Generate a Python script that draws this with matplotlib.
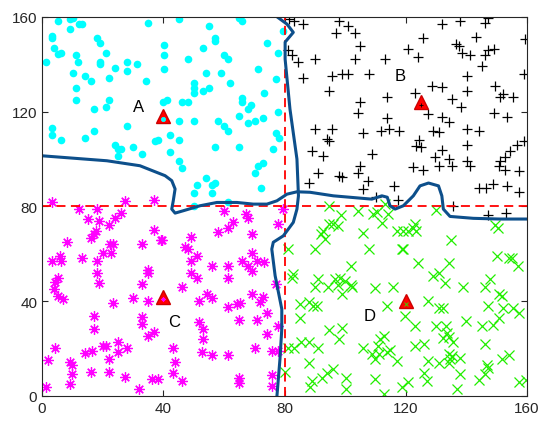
import matplotlib
matplotlib.use('Agg')
import matplotlib.pyplot as plt
import numpy as np

plt.rcParams['font.family'] = ['Liberation Sans', 'DejaVu Sans']

# class A (cyan dots)
a_x = [5.4, 9.2, 10.1, 9.2, 12.3, 13.1, 3.2, 3.2, 4.1, 5.4, 6.2, 11.2, 12.0, 18.0, 19.1, 21.0,
       19.1, 19.1, 24.1, 28.2, 31.2, 28.2, 1.3, 10.1, 14.2, 16.1, 22.1, 11.2, 11.2, 22.1, 21.0,
       17.2, 34.2, 35.1, 3.2, 3.2, 6.2, 14.2, 17.2, 28.2, 24.1, 25.2, 26.1, 25.2, 30.1, 33.1,
       37.3, 38.1,
       45.2, 55.1, 65.1, 66.1, 57.1, 57.1, 53.0, 40.3, 40.3, 40.3, 48.3, 60.1, 61.2, 74.1, 78.0,
       79.6, 71.1, 54.1, 59.1, 77.1, 50.2, 50.2, 50.2, 53.0, 55.2, 62.0, 73.3, 66.1, 66.1, 69.0,
       68.1, 41.1, 40.0, 46.1, 48.3, 78.0, 45.2, 50.2, 58.2, 60.1, 61.2, 65.1, 68.1, 70.1, 73.0,
       42.2, 45.2, 77.1, 78.2, 42.2, 57.1, 65.1, 76.1, 45.2, 46.1, 71.1, 73.0, 70.1, 54.1, 51.0,
       57.1, 56.0, 50.2, 56.0, 72.2, 61.2, 50.2]
a_y = [158.1, 159.1, 159.6, 155.1, 157.0, 157.0, 152.1, 151.1, 147.1, 144.3, 145.0, 144.0, 141.1,
       151.1, 149.0, 145.0, 140.8, 140.1, 138.3, 141.1, 140.1, 137.0, 141.1, 136.2, 135.2, 133.1,
       134.2, 130.2, 125.0, 125.0, 122.1, 121.1, 133.1, 157.3, 113.1, 110.1, 108.0, 108.9, 112.0,
       114.1, 106.0, 104.2, 104.2, 101.1, 104.9, 102.1, 107.7, 108.0,
       159.1, 156.0, 159.6, 158.1, 151.1, 149.9, 147.1, 148.1, 144.0, 138.0, 142.2, 144.0, 142.1,
       149.0, 145.0, 154.2, 138.0, 136.2, 136.2, 134.0, 132.1, 130.0, 128.1, 128.8, 130.0, 132.1,
       128.1, 126.0, 123.9, 122.9, 121.1, 124.9, 123.9, 123.9, 123.9, 120.0, 116.2, 116.2, 116.2,
       114.1, 112.0, 118.0, 115.2, 116.2, 117.2, 110.1, 108.0, 111.0, 109.1, 103.1, 105.2, 105.2,
       104.2, 99.3, 96.2, 97.2, 98.2, 94.1, 92.0, 89.2, 89.9, 89.2, 85.9, 85.9, 88.0, 82.1, 80.0]

# class B (black plus)
b_x = [81.5, 83.0, 86.0, 98.1, 101.1, 97.0, 103.3, 104.9, 81.0, 82.4, 84.3, 90.1, 103.3, 113.0,
       86.0, 95.8, 98.9, 101.1, 108.0, 94.8, 104.9, 104.2, 113.7, 113.7, 90.1, 95.8, 106.0, 111.8,
       114.6, 117.8, 93.9, 94.8, 89.2, 92.6, 109.0, 104.9, 104.2, 91.2, 88.2, 98.1, 98.9, 107.4,
       106.0, 116.2, 110.1, 117.3,
       131.9, 137.9, 146.2, 147.0, 143.2, 125.8, 159.5, 120.9, 124.2, 136.6, 137.7, 138.5, 141.2,
       147.0, 149.0, 146.2, 145.1, 159.1, 140.1, 128.6, 131.9, 140.1, 149.5, 151.1, 152.2, 155.5,
       135.2, 138.3, 127.5, 131.9, 134.4, 149.0, 153.3, 140.1, 144.0, 128.9, 131.1, 124.5, 123.4,
       125.1, 131.9, 140.1, 129.7, 134.4, 140.1, 156.6, 159.1, 154.4, 152.6, 151.1, 141.2, 122.3,
       125.8, 131.1, 135.2, 150.6, 152.8, 157.2, 144.3, 146.5, 148.9, 153.3, 157.5, 122.9,
       135.7, 147.0, 153.1]
b_y = [159.1, 158.1, 157.0, 158.1, 156.0, 153.2, 153.2, 147.8, 146.0, 144.0, 141.1, 142.2, 142.2,
       142.2, 134.2, 135.2, 135.9, 135.9, 135.9, 128.8, 123.9, 119.4, 126.4, 117.3, 112.7, 112.7,
       111.2, 112.0, 112.9, 112.0, 108.4, 107.7, 103.5, 101.1, 102.1, 97.2, 94.1, 94.1, 90.1, 93.0,
       92.3, 90.9, 87.3, 88.7, 84.2, 82.8,
       157.0, 158.1, 157.3, 159.5, 151.6, 151.1, 150.6, 146.4, 142.9, 148.8, 147.8, 145.0, 144.0,
       146.0, 146.4, 144.0, 139.1, 135.9, 135.2, 131.0, 130.5, 128.8, 131.0, 126.4, 127.4, 126.4,
       125.3, 121.8, 119.0, 117.9, 115.8, 119.4, 117.6, 112.9, 112.0, 112.0, 111.5, 108.0, 105.6,
       105.3, 103.8, 106.0, 101.0, 100.0, 99.3, 105.9, 107.7, 103.5, 101.0, 99.3, 96.9, 96.5,
       95.5, 96.9, 96.9, 97.2, 95.3, 95.1, 87.6, 87.6, 89.7, 88.7, 86.3, 128.1,
       80.3, 76.5, 77.2]

# class C (magenta asterisks)
c_x = [3.2, 12.3, 18.0, 27.4, 37.0, 15.3, 18.9, 22.1, 24.1, 26.1, 17.8, 17.0, 16.1, 8.4, 37.1,
       39.2, 22.4, 23.3, 33.1, 20.2, 22.8, 3.2, 6.0, 6.3, 13.1, 18.0, 18.0, 18.9, 35.1, 35.1, 33.1,
       5.4, 4.3, 4.1, 5.4, 7.0, 23.3, 30.1, 35.1, 17.2, 17.2, 33.1, 33.1, 35.1, 37.1, 4.3, 2.1,
       14.2, 16.4, 20.2, 21.0, 25.2, 25.2, 28.2, 22.1, 9.2, 10.0, 10.0, 16.1, 22.1, 27.4, 9.2, 1.3,
       32.0, 36.2, 38.1,
       60.1, 67.3, 68.1, 63.1, 61.5, 58.2, 39.5, 49.1, 47.2, 48.3, 69.2, 78.0, 51.0, 49.1, 56.0,
       61.2, 65.9, 69.2, 67.8, 69.2, 70.8, 73.3, 49.1, 51.0, 61.2, 46.3, 77.1, 54.3, 56.0, 51.9,
       69.2, 73.0, 71.9, 64.2, 65.3, 61.2, 74.1, 65.1, 70.8, 51.9, 53.0, 53.0, 78.0, 74.1, 43.1,
       52.7, 56.0, 61.2, 70.1, 75.8, 78.0, 43.9, 43.1, 46.3, 65.1, 65.1, 75.8, 75.8, 79.6]
c_y = [82.0, 78.9, 78.9, 82.4, 82.8, 74.7, 74.0, 72.3, 75.1, 77.2, 69.7, 68.3, 66.9, 65.2, 70.2,
       65.9, 64.1, 64.1, 64.1, 60.3, 60.3, 57.1, 58.9, 56.8, 58.1, 57.1, 52.1, 47.9, 53.3, 51.9,
       47.2, 50.0, 48.2, 45.1, 42.3, 40.9, 39.1, 41.3, 40.2, 33.9, 28.2, 33.4, 30.3, 25.4, 27.2,
       20.2, 15.1, 18.1, 19.1, 21.2, 21.2, 22.9, 18.4, 20.2, 15.6, 14.2, 13.2, 9.2, 10.2, 10.2,
       8.2, 5.0, 4.0, 2.9, 7.1, 7.1,
       77.9, 76.8, 75.1, 73.3, 71.1, 69.4, 65.9, 67.3, 63.1, 62.0, 68.3, 72.5, 58.9, 57.1, 55.0,
       55.0, 57.1, 60.3, 55.0, 52.9, 57.1, 56.4, 51.9, 49.8, 49.8, 46.1, 47.2, 43.0, 41.2, 40.2,
       43.0, 42.0, 39.8, 38.8, 39.2, 37.4, 35.0, 32.0, 32.0, 31.3, 28.2, 24.0, 29.6, 26.1, 20.1,
       18.4, 17.3, 17.3, 20.2, 19.1, 19.1, 14.2, 9.9, 6.4, 7.5, 5.4, 8.8, 4.3, 78.9]

# class D (green crosses)
d_x = [94.8, 98.7, 104.1, 109.3, 110.4, 113.2, 114.0, 112.1, 94.8, 96.1, 97.5, 92.6, 92.0, 93.4,
       106.0, 117.0, 81.0, 89.9, 108.0, 118.7, 101.9, 82.9, 82.4, 91.0, 89.9, 94.5, 96.7, 98.3,
       97.5, 100.0, 101.9, 102.2, 98.9, 109.9, 115.9, 85.1, 88.2, 89.5, 90.6, 85.1, 113.7, 94.8,
       98.9, 98.1, 81.0, 83.2, 85.4, 88.2, 90.9, 106.0, 111.5, 112.9, 111.0, 108.8, 111.3, 113.7,
       114.8, 109.9, 117.0, 88.2, 80.2, 96.1, 93.9, 92.3, 89.2, 88.4, 100.3, 100.3, 109.9, 112.9,
       130.0, 149.5, 150.3, 123.1, 122.3, 119.0, 120.9, 123.4, 134.9, 119.2, 150.0, 153.9, 155.0,
       156.9, 124.2, 134.1, 128.9, 131.1, 133.0, 147.8, 146.2, 139.0, 150.6, 151.7, 127.2, 131.1,
       132.4, 147.0, 152.0, 155.5, 157.5, 119.8, 150.6, 139.9, 123.1, 130.0, 133.3, 145.1, 148.9,
       133.5, 134.4, 132.4, 135.7, 123.1, 126.1, 146.2, 134.1, 135.2, 134.7, 137.9, 127.2, 131.1,
       134.1, 146.7, 147.1, 151.7, 153.9, 126.1, 126.9, 137.9, 144.0, 146.0, 120.9, 118.7, 136.8,
       157.2, 159.7]
d_y = [80.0, 76.5, 78.2, 76.8, 77.5, 81.0, 76.8, 73.0, 72.5, 72.5, 71.8, 69.7, 68.3, 66.2, 69.0,
       69.7, 62.0, 62.0, 62.0, 62.0, 55.0, 51.4, 49.6, 49.3, 46.2, 45.8, 49.3, 50.0, 46.8, 48.6,
       46.8, 46.2, 43.0, 45.4, 45.8, 38.8, 39.5, 38.1, 38.1, 33.1, 38.1, 27.9, 28.9, 24.0, 20.1,
       20.1, 22.9, 22.9, 20.1, 20.2, 24.0, 25.4, 21.2, 17.7, 17.7, 18.4, 19.5, 15.6, 14.9, 13.9,
       10.2, 11.3, 9.9, 7.8, 6.4, 3.6, 7.8, 2.9, 7.1, 0.8,
       78.6, 72.1, 71.1, 72.5, 71.1, 69.7, 69.7, 69.7, 65.9, 62.0, 58.9, 58.1, 58.1, 55.0, 56.1,
       56.1, 50.7, 51.9, 47.9, 49.3, 46.2, 45.8, 43.0, 42.3, 40.2, 37.0, 37.0, 38.1, 37.0, 37.0,
       35.0, 33.9, 33.1, 31.7, 29.6, 29.4, 29.4, 29.4, 29.9, 26.5, 25.1, 24.3, 22.9, 21.2, 21.9,
       21.9, 17.7, 17.0, 15.6, 15.9, 14.9, 13.9, 13.9, 13.2, 12.0, 15.6, 17.3, 9.7, 6.4, 9.2, 6.9,
       9.2, 6.0, 4.0, 2.9, 6.0, 6.9]

# cluster centres and labels
centre_x = [40, 125, 40, 120]
centre_y = [118, 124, 42, 40]
labels = ['A', 'B', 'C', 'D']
label_x = [32, 118, 43.5, 108]
label_y = [122, 135.5, 31.5, 34]

# decision boundary
bnd1_x = [0, 21.4, 32.3, 40.6, 42.8, 43.9, 43.3, 42.8, 43.9, 46.6, 52.1, 57.7, 64.3, 69.7, 74.2,
          77.5, 80.8, 84.1, 88.4, 96.1, 108.8, 112.1, 113.9, 114.8, 116.5, 119.2, 122.5, 124.7,
          127.5, 130.8, 131.9, 132.4, 134.6, 142.3, 151.1, 160]
bnd1_y = [101.4, 99.3, 97.2, 93.0, 90.9, 87.4, 82.4, 78.9, 77.2, 78.2, 80.3, 81.7, 81.7, 81.0,
          81.0, 82.4, 85.2, 86.2, 86.0, 84.5, 83.1, 84.5, 83.9, 80.3, 78.9, 80.3, 84.5, 88.7,
          89.9, 88.7, 84.5, 78.9, 75.8, 75.0, 74.7, 74.7]
bnd2_x = [77.6, 80.8, 82.9, 80.2, 80.2, 81.8, 84.1, 84.6, 84.1, 82.9, 79.6, 76.3, 75.8, 76.9,
          79.1, 79.1, 78.5, 77.5]
bnd2_y = [160, 157.0, 153.5, 149.4, 142.2, 121.1, 100.0, 84.5, 78.9, 73.3, 67.6, 64.9, 62.0,
          50.8, 36.7, 28.3, 15.6, 0]

fig = plt.figure(figsize=(5.5, 4.31), dpi=100)
ax = fig.add_axes([0.0764, 0.0789, 0.8818, 0.8794])

asterisk = (8, 2, 0)
ax.plot(a_x, a_y, 'o', color='#00ffff', markersize=5.5, markeredgewidth=0)
ax.plot(b_x, b_y, '+', color='black', markersize=7.5, markeredgewidth=0.9)
ax.plot(c_x, c_y, linestyle='none', marker=asterisk, color='#ff00ff', markersize=7.5,
        markeredgewidth=0.9)
ax.plot(d_x, d_y, 'x', color='#22ee00', markersize=6.5, markeredgewidth=0.9)

ax.axvline(80, color='#ff0000', linestyle=(0, (5, 3)), linewidth=1.3)
ax.axhline(80, color='#ff0000', linestyle=(0, (5, 3)), linewidth=1.3)

ax.plot(bnd1_x, bnd1_y, color='#0d4f8b', linewidth=2.2, solid_capstyle='round')
ax.plot(bnd2_x, bnd2_y, color='#0d4f8b', linewidth=2.2, solid_capstyle='round')

ax.plot(centre_x, centre_y, '^', color='#ff0000', markersize=10, markeredgecolor='#cc0000')
inner = [('o', '#00ffff'), ('+', 'black'), (asterisk, '#ff00ff'), ('x', '#22ee00')]
for (m, c), cx, cy in zip(inner, centre_x, centre_y):
    ax.plot(cx, cy - 1.2, linestyle='none', marker=m, color=c, markersize=3,
            markeredgewidth=0.6)

for t, lx, ly in zip(labels, label_x, label_y):
    ax.text(lx, ly, t, fontsize=12, ha='center', va='center')

ax.set_xlim(0, 160)
ax.set_ylim(0, 160)
ax.set_xticks([0, 40, 80, 120, 160])
ax.set_yticks([0, 40, 80, 120, 160])
ax.tick_params(direction='in', labelsize=11, colors='#262626', length=4, top=True, right=True)
for s in ax.spines.values():
    s.set_color('#262626')
    s.set_linewidth(0.8)

fig.savefig('out.png', dpi=100)
